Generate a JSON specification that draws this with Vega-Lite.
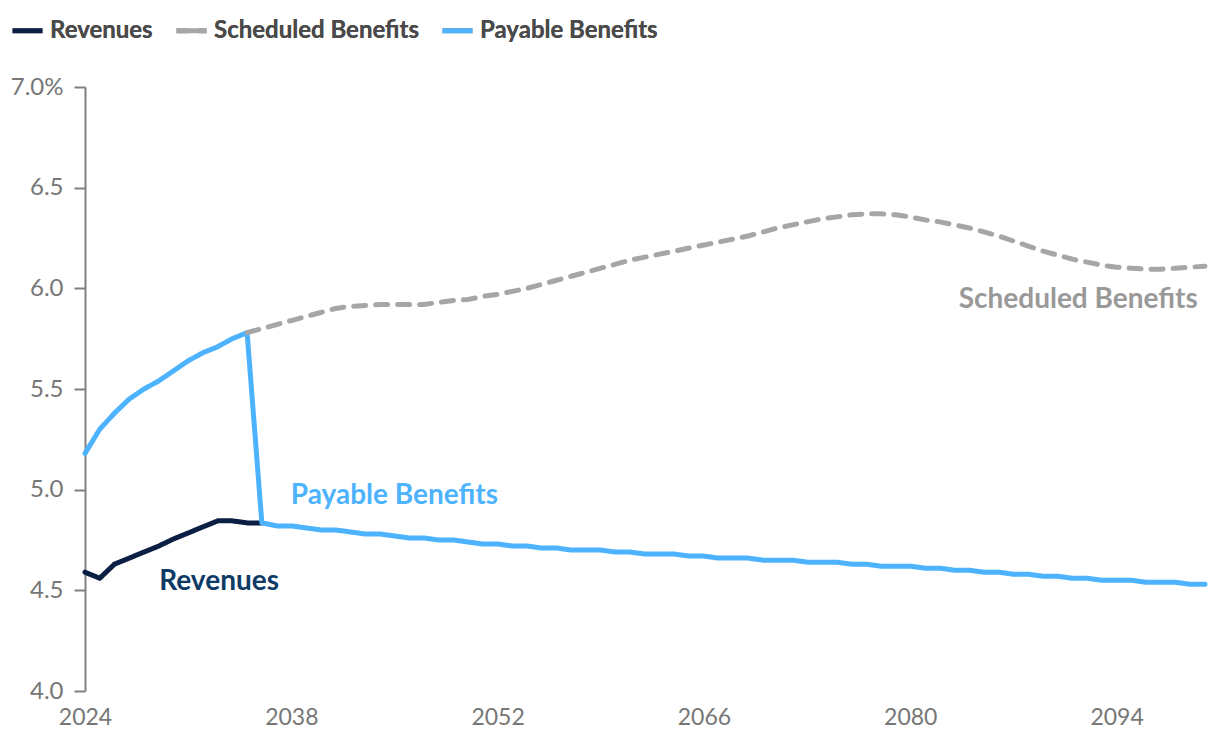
{
  "$schema": "https://vega.github.io/schema/vega-lite/v6.json",
  "width": 1120,
  "height": 604,
  "autosize": {"type": "none"},
  "padding": {"left": 85, "top": 87, "right": 15, "bottom": 53},
  "background": "white",
  "config": {
    "view": {"stroke": null},
    "font": "Lato"
  },
  "datasets": {
    "series": [
      {"year": 2024, "series": "Revenues", "value": 4.59},
      {"year": 2025, "series": "Revenues", "value": 4.56},
      {"year": 2026, "series": "Revenues", "value": 4.63},
      {"year": 2027, "series": "Revenues", "value": 4.66},
      {"year": 2028, "series": "Revenues", "value": 4.69},
      {"year": 2029, "series": "Revenues", "value": 4.72},
      {"year": 2030, "series": "Revenues", "value": 4.755},
      {"year": 2031, "series": "Revenues", "value": 4.785},
      {"year": 2032, "series": "Revenues", "value": 4.815},
      {"year": 2033, "series": "Revenues", "value": 4.845},
      {"year": 2034, "series": "Revenues", "value": 4.845},
      {"year": 2035, "series": "Revenues", "value": 4.835},
      {"year": 2036, "series": "Revenues", "value": 4.835},

      {"year": 2024, "series": "Payable Benefits", "value": 5.18},
      {"year": 2025, "series": "Payable Benefits", "value": 5.30},
      {"year": 2026, "series": "Payable Benefits", "value": 5.38},
      {"year": 2027, "series": "Payable Benefits", "value": 5.45},
      {"year": 2028, "series": "Payable Benefits", "value": 5.50},
      {"year": 2029, "series": "Payable Benefits", "value": 5.54},
      {"year": 2030, "series": "Payable Benefits", "value": 5.59},
      {"year": 2031, "series": "Payable Benefits", "value": 5.64},
      {"year": 2032, "series": "Payable Benefits", "value": 5.68},
      {"year": 2033, "series": "Payable Benefits", "value": 5.71},
      {"year": 2034, "series": "Payable Benefits", "value": 5.75},
      {"year": 2035, "series": "Payable Benefits", "value": 5.78},
      {"year": 2036, "series": "Payable Benefits", "value": 4.835},
      {"year": 2037, "series": "Payable Benefits", "value": 4.82},
      {"year": 2038, "series": "Payable Benefits", "value": 4.82},
      {"year": 2039, "series": "Payable Benefits", "value": 4.81},
      {"year": 2040, "series": "Payable Benefits", "value": 4.80},
      {"year": 2041, "series": "Payable Benefits", "value": 4.80},
      {"year": 2042, "series": "Payable Benefits", "value": 4.79},
      {"year": 2043, "series": "Payable Benefits", "value": 4.78},
      {"year": 2044, "series": "Payable Benefits", "value": 4.78},
      {"year": 2045, "series": "Payable Benefits", "value": 4.77},
      {"year": 2046, "series": "Payable Benefits", "value": 4.76},
      {"year": 2047, "series": "Payable Benefits", "value": 4.76},
      {"year": 2048, "series": "Payable Benefits", "value": 4.75},
      {"year": 2049, "series": "Payable Benefits", "value": 4.75},
      {"year": 2050, "series": "Payable Benefits", "value": 4.74},
      {"year": 2051, "series": "Payable Benefits", "value": 4.73},
      {"year": 2052, "series": "Payable Benefits", "value": 4.73},
      {"year": 2053, "series": "Payable Benefits", "value": 4.72},
      {"year": 2054, "series": "Payable Benefits", "value": 4.72},
      {"year": 2055, "series": "Payable Benefits", "value": 4.71},
      {"year": 2056, "series": "Payable Benefits", "value": 4.71},
      {"year": 2057, "series": "Payable Benefits", "value": 4.70},
      {"year": 2058, "series": "Payable Benefits", "value": 4.70},
      {"year": 2059, "series": "Payable Benefits", "value": 4.70},
      {"year": 2060, "series": "Payable Benefits", "value": 4.69},
      {"year": 2061, "series": "Payable Benefits", "value": 4.69},
      {"year": 2062, "series": "Payable Benefits", "value": 4.68},
      {"year": 2063, "series": "Payable Benefits", "value": 4.68},
      {"year": 2064, "series": "Payable Benefits", "value": 4.68},
      {"year": 2065, "series": "Payable Benefits", "value": 4.67},
      {"year": 2066, "series": "Payable Benefits", "value": 4.67},
      {"year": 2067, "series": "Payable Benefits", "value": 4.66},
      {"year": 2068, "series": "Payable Benefits", "value": 4.66},
      {"year": 2069, "series": "Payable Benefits", "value": 4.66},
      {"year": 2070, "series": "Payable Benefits", "value": 4.65},
      {"year": 2071, "series": "Payable Benefits", "value": 4.65},
      {"year": 2072, "series": "Payable Benefits", "value": 4.65},
      {"year": 2073, "series": "Payable Benefits", "value": 4.64},
      {"year": 2074, "series": "Payable Benefits", "value": 4.64},
      {"year": 2075, "series": "Payable Benefits", "value": 4.64},
      {"year": 2076, "series": "Payable Benefits", "value": 4.63},
      {"year": 2077, "series": "Payable Benefits", "value": 4.63},
      {"year": 2078, "series": "Payable Benefits", "value": 4.62},
      {"year": 2079, "series": "Payable Benefits", "value": 4.62},
      {"year": 2080, "series": "Payable Benefits", "value": 4.62},
      {"year": 2081, "series": "Payable Benefits", "value": 4.61},
      {"year": 2082, "series": "Payable Benefits", "value": 4.61},
      {"year": 2083, "series": "Payable Benefits", "value": 4.60},
      {"year": 2084, "series": "Payable Benefits", "value": 4.60},
      {"year": 2085, "series": "Payable Benefits", "value": 4.59},
      {"year": 2086, "series": "Payable Benefits", "value": 4.59},
      {"year": 2087, "series": "Payable Benefits", "value": 4.58},
      {"year": 2088, "series": "Payable Benefits", "value": 4.58},
      {"year": 2089, "series": "Payable Benefits", "value": 4.57},
      {"year": 2090, "series": "Payable Benefits", "value": 4.57},
      {"year": 2091, "series": "Payable Benefits", "value": 4.56},
      {"year": 2092, "series": "Payable Benefits", "value": 4.56},
      {"year": 2093, "series": "Payable Benefits", "value": 4.55},
      {"year": 2094, "series": "Payable Benefits", "value": 4.55},
      {"year": 2095, "series": "Payable Benefits", "value": 4.55},
      {"year": 2096, "series": "Payable Benefits", "value": 4.54},
      {"year": 2097, "series": "Payable Benefits", "value": 4.54},
      {"year": 2098, "series": "Payable Benefits", "value": 4.54},
      {"year": 2099, "series": "Payable Benefits", "value": 4.53},
      {"year": 2100, "series": "Payable Benefits", "value": 4.53},

      {"year": 2035, "series": "Scheduled Benefits", "value": 5.78},
      {"year": 2036, "series": "Scheduled Benefits", "value": 5.80},
      {"year": 2037, "series": "Scheduled Benefits", "value": 5.82},
      {"year": 2038, "series": "Scheduled Benefits", "value": 5.84},
      {"year": 2039, "series": "Scheduled Benefits", "value": 5.86},
      {"year": 2040, "series": "Scheduled Benefits", "value": 5.88},
      {"year": 2041, "series": "Scheduled Benefits", "value": 5.90},
      {"year": 2042, "series": "Scheduled Benefits", "value": 5.91},
      {"year": 2043, "series": "Scheduled Benefits", "value": 5.915},
      {"year": 2044, "series": "Scheduled Benefits", "value": 5.92},
      {"year": 2045, "series": "Scheduled Benefits", "value": 5.92},
      {"year": 2046, "series": "Scheduled Benefits", "value": 5.92},
      {"year": 2047, "series": "Scheduled Benefits", "value": 5.92},
      {"year": 2048, "series": "Scheduled Benefits", "value": 5.93},
      {"year": 2049, "series": "Scheduled Benefits", "value": 5.94},
      {"year": 2050, "series": "Scheduled Benefits", "value": 5.945},
      {"year": 2051, "series": "Scheduled Benefits", "value": 5.96},
      {"year": 2052, "series": "Scheduled Benefits", "value": 5.97},
      {"year": 2053, "series": "Scheduled Benefits", "value": 5.985},
      {"year": 2054, "series": "Scheduled Benefits", "value": 6.00},
      {"year": 2055, "series": "Scheduled Benefits", "value": 6.02},
      {"year": 2056, "series": "Scheduled Benefits", "value": 6.04},
      {"year": 2057, "series": "Scheduled Benefits", "value": 6.06},
      {"year": 2058, "series": "Scheduled Benefits", "value": 6.08},
      {"year": 2059, "series": "Scheduled Benefits", "value": 6.10},
      {"year": 2060, "series": "Scheduled Benefits", "value": 6.12},
      {"year": 2061, "series": "Scheduled Benefits", "value": 6.14},
      {"year": 2062, "series": "Scheduled Benefits", "value": 6.155},
      {"year": 2063, "series": "Scheduled Benefits", "value": 6.17},
      {"year": 2064, "series": "Scheduled Benefits", "value": 6.185},
      {"year": 2065, "series": "Scheduled Benefits", "value": 6.20},
      {"year": 2066, "series": "Scheduled Benefits", "value": 6.215},
      {"year": 2067, "series": "Scheduled Benefits", "value": 6.23},
      {"year": 2068, "series": "Scheduled Benefits", "value": 6.245},
      {"year": 2069, "series": "Scheduled Benefits", "value": 6.26},
      {"year": 2070, "series": "Scheduled Benefits", "value": 6.28},
      {"year": 2071, "series": "Scheduled Benefits", "value": 6.30},
      {"year": 2072, "series": "Scheduled Benefits", "value": 6.315},
      {"year": 2073, "series": "Scheduled Benefits", "value": 6.33},
      {"year": 2074, "series": "Scheduled Benefits", "value": 6.345},
      {"year": 2075, "series": "Scheduled Benefits", "value": 6.355},
      {"year": 2076, "series": "Scheduled Benefits", "value": 6.365},
      {"year": 2077, "series": "Scheduled Benefits", "value": 6.37},
      {"year": 2078, "series": "Scheduled Benefits", "value": 6.37},
      {"year": 2079, "series": "Scheduled Benefits", "value": 6.365},
      {"year": 2080, "series": "Scheduled Benefits", "value": 6.355},
      {"year": 2081, "series": "Scheduled Benefits", "value": 6.34},
      {"year": 2082, "series": "Scheduled Benefits", "value": 6.33},
      {"year": 2083, "series": "Scheduled Benefits", "value": 6.315},
      {"year": 2084, "series": "Scheduled Benefits", "value": 6.30},
      {"year": 2085, "series": "Scheduled Benefits", "value": 6.28},
      {"year": 2086, "series": "Scheduled Benefits", "value": 6.26},
      {"year": 2087, "series": "Scheduled Benefits", "value": 6.235},
      {"year": 2088, "series": "Scheduled Benefits", "value": 6.21},
      {"year": 2089, "series": "Scheduled Benefits", "value": 6.185},
      {"year": 2090, "series": "Scheduled Benefits", "value": 6.165},
      {"year": 2091, "series": "Scheduled Benefits", "value": 6.145},
      {"year": 2092, "series": "Scheduled Benefits", "value": 6.13},
      {"year": 2093, "series": "Scheduled Benefits", "value": 6.115},
      {"year": 2094, "series": "Scheduled Benefits", "value": 6.105},
      {"year": 2095, "series": "Scheduled Benefits", "value": 6.10},
      {"year": 2096, "series": "Scheduled Benefits", "value": 6.095},
      {"year": 2097, "series": "Scheduled Benefits", "value": 6.095},
      {"year": 2098, "series": "Scheduled Benefits", "value": 6.10},
      {"year": 2099, "series": "Scheduled Benefits", "value": 6.105},
      {"year": 2100, "series": "Scheduled Benefits", "value": 6.11}
    ],
    "labels": [
      {"year": 2091.4, "value": 5.94, "label": "Scheduled Benefits", "series": "Scheduled Benefits"},
      {"year": 2045.0, "value": 4.97, "label": "Payable Benefits", "series": "Payable Benefits"},
      {"year": 2033.1, "value": 4.54, "label": "Revenues", "series": "Revenues"}
    ]
  },
  "resolve": {"scale": {"color": "independent"}},
  "layer": [
    {
      "data": {"name": "series"},
      "mark": {"type": "line", "strokeWidth": 5, "strokeCap": "round", "strokeJoin": "round"},
      "encoding": {
        "x": {
          "field": "year", "type": "quantitative",
          "scale": {"domain": [2024, 2100], "nice": false, "zero": false},
          "axis": {
            "title": null, "values": [2024, 2038, 2052, 2066, 2080, 2094], "format": "d",
            "domain": false, "ticks": false, "grid": false,
            "labelFont": "Lato", "labelFontSize": 23, "labelColor": "#777777",
            "labelPadding": 15, "labelFlush": false
          }
        },
        "y": {
          "field": "value", "type": "quantitative",
          "scale": {"domain": [4, 7], "nice": false, "zero": false},
          "axis": {
            "title": null, "values": [4, 4.5, 5, 5.5, 6, 6.5, 7],
            "labelExpr": "datum.value == 7 ? '7.0%' : format(datum.value, '.1f')",
            "domain": true, "domainColor": "#808080", "domainWidth": 2,
            "ticks": true, "tickColor": "#808080", "tickSize": 11, "tickWidth": 2,
            "grid": false,
            "labelFont": "Lato", "labelFontSize": 24, "labelColor": "#777777",
            "labelPadding": 11
          }
        },
        "color": {
          "field": "series", "type": "nominal",
          "scale": {
            "domain": ["Revenues", "Scheduled Benefits", "Payable Benefits"],
            "range": ["#0b1f45", "#a6a6a6", "#4db3ff"]
          },
          "legend": {
            "title": null, "orient": "none", "direction": "horizontal",
            "legendX": -75, "legendY": -74,
            "symbolType": "stroke", "symbolSize": 900, "symbolStrokeWidth": 5,
            "labelFont": "Lato", "labelFontSize": 24, "labelFontWeight": "bold",
            "labelColor": "#4a4a4a", "labelOffset": 5, "columnPadding": 13,
            "labelLimit": 0
          }
        },
        "strokeDash": {
          "field": "series", "type": "nominal",
          "scale": {
            "domain": ["Revenues", "Scheduled Benefits", "Payable Benefits"],
            "range": [[1, 0], [12, 10], [1, 0]]
          },
          "legend": {
            "title": null, "orient": "none", "direction": "horizontal",
            "legendX": -75, "legendY": -74,
            "symbolType": "stroke", "symbolSize": 900, "symbolStrokeWidth": 5,
            "labelFont": "Lato", "labelFontSize": 24, "labelFontWeight": "bold",
            "labelColor": "#4a4a4a", "labelOffset": 5, "columnPadding": 13,
            "labelLimit": 0
          }
        }
      }
    },
    {
      "data": {"name": "labels"},
      "mark": {"type": "text", "font": "Lato", "fontSize": 28, "fontWeight": "bold", "baseline": "middle", "align": "center"},
      "encoding": {
        "x": {"field": "year", "type": "quantitative"},
        "y": {"field": "value", "type": "quantitative"},
        "text": {"field": "label"},
        "color": {
          "field": "series", "type": "nominal",
          "scale": {
            "domain": ["Revenues", "Scheduled Benefits", "Payable Benefits"],
            "range": ["#0e3a66", "#999999", "#4db3ff"]
          },
          "legend": null
        }
      }
    }
  ]
}
